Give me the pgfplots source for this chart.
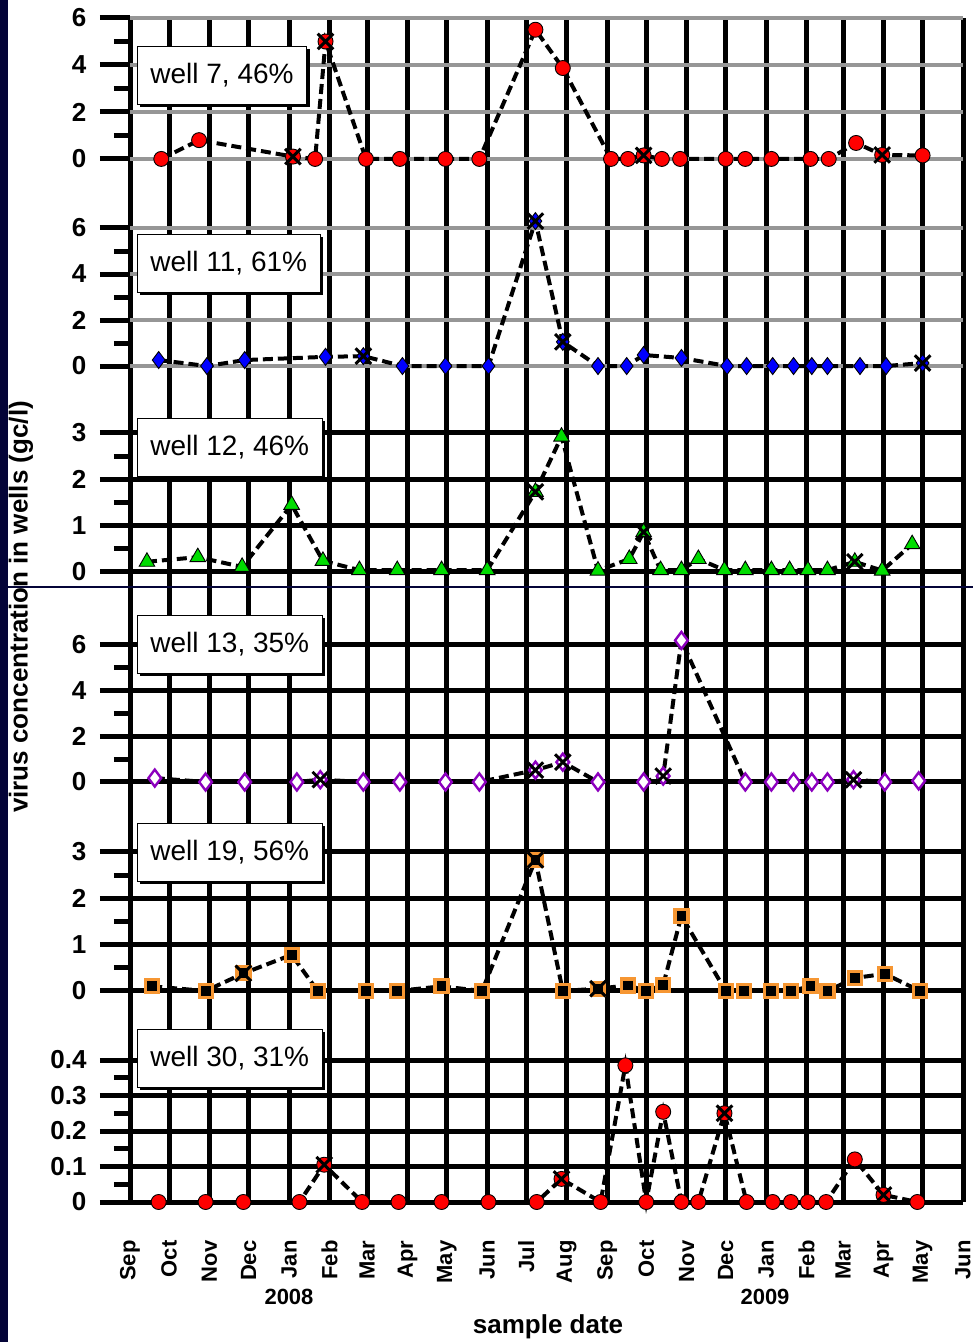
\documentclass[border=0pt]{standalone}
\usepackage{fontspec}
\setmainfont{Liberation Sans}
\usepackage{pgfplots}
\pgfplotsset{compat=1.18}
\usetikzlibrary{shadows}

\definecolor{slidenavy}{RGB}{4,4,56}
\definecolor{gridgray}{RGB}{150,150,150}
\definecolor{wellred}{RGB}{255,0,0}
\definecolor{wellblue}{RGB}{0,0,255}
\definecolor{wellgreen}{RGB}{0,220,0}
\definecolor{wellpurple}{RGB}{140,0,190}
\definecolor{wellorange}{RGB}{246,150,50}

% x axis: days since 1 Sep 2007
\pgfplotsset{
  panel/.style={
    scale only axis, width=833pt, anchor=south west,
    xmin=0, xmax=639, clip=false,
    axis line style={draw=none},
    tick pos=left, tick align=outside,
    major tick length=30pt, minor tick length=16pt,
    xtick={0,30,61,91,122,153,182,213,243,274,304,335,366,396,427,457,488,519,547,578,608,639},
    xticklabels={}, xtick style={draw=none},
    xmajorgrids, ymajorgrids,
    major x grid style={black, line width=5pt},
    major y grid style={black, line width=5pt},
    ytick style={black, line width=5pt},
    /pgf/number format/assume math mode=true,
    yticklabel style={font=\fontsize{26}{26}\selectfont\bfseries, xshift=-10pt},
  },
  conn/.style={black, line width=4pt, dash pattern=on 10pt off 5pt},
  flag/.style={only marks, mark=x, mark size=11pt, mark options={black, line width=3pt}},
}
\tikzset{
  box/.style={draw=black, line width=0.8pt, fill=white, anchor=west, inner xsep=13pt,
    minimum height=58pt, font=\fontsize{28}{28}\selectfont,
    drop shadow={shadow xshift=3pt, shadow yshift=-3pt, fill=black, opacity=1}},
}

\begin{document}
\begin{tikzpicture}
\useasboundingbox (0,0) rectangle (973pt,1342pt);
\fill[white] (0,0) rectangle (973pt,1342pt);

% well 7
\begin{axis}[panel, at={(130pt,1114pt)}, height=210pt,
  ymin=-2.94, ymax=6, ytick={0,2,4,6}, minor ytick={1,3,5},
  major y grid style={gridgray, line width=4pt}]
\addplot[conn, mark=*, mark size=7.5pt, mark options={solid, fill=wellred, draw=black, line width=0.9pt}] coordinates {
(24,0) (53,0.8) (125,0.1) (142,0) (150,5.0) (181,0) (207,0) (242,0) (268,0)
(311,5.5) (332,3.87) (369,0) (382,0) (394,0.15) (408,0) (422,0) (457,0) (472,0)
(492,0) (522,0) (536,0) (557,0.68) (577,0.17) (608,0.15)};
\addplot[flag] coordinates {(125,0.1) (150,5.0) (394,0.15) (577,0.17)};
\end{axis}

% well 11
\begin{axis}[panel, at={(130pt,909pt)}, height=205pt,
  ymin=-2.91, ymax=6, ytick={0,2,4,6}, minor ytick={1,3,5},
  major y grid style={gridgray, line width=4pt}]
\addplot[conn, mark=diamond*, mark size=8.5pt, mark options={solid, fill=wellblue, draw=black, line width=0.9pt}] coordinates {
(22,0.26) (59,0) (88,0.26) (150,0.4) (179,0.43) (209,0) (242,0) (275,0)
(311,6.3) (332,1.05) (359,0) (381,0) (394,0.48) (423,0.35) (458,0) (473,0)
(493,0) (509,0) (523,0) (535,0) (560,0) (580,0) (608,0.13)};
\addplot[flag] coordinates {(179,0.43) (311,6.3) (332,1.05) (608,0.13)};
\end{axis}

% well 12
\begin{axis}[panel, at={(130pt,697pt)}, height=212pt,
  ymin=-1.576, ymax=3, ytick={0,1,2,3}, minor ytick={0.5,1.5,2.5}]
\addplot[conn, mark=triangle*, mark size=9pt, mark options={solid, fill=wellgreen, draw=black, line width=0.9pt}] coordinates {
(13,0.22) (52,0.32) (86,0.11) (124,1.45) (148,0.24) (176,0.04) (205,0.04) (239,0.04)
(274,0.04) (311,1.73) (331,2.92) (359,0.03) (383,0.28) (394,0.86) (407,0.04) (423,0.04)
(436,0.28) (456,0.04) (472,0.04) (492,0.04) (506,0.04) (520,0.04) (535,0.04)
(556,0.22) (577,0.03) (600,0.6)};
\addplot[flag] coordinates {(311,1.73) (394,0.86) (556,0.22)};
\end{axis}

% well 13
\begin{axis}[panel, at={(130pt,490pt)}, height=207pt,
  ymin=-3.066, ymax=6, ytick={0,2,4,6}, minor ytick={1,3,5}]
\addplot[conn, mark=diamond*, mark size=8.5pt, mark options={solid, fill=white, draw=wellpurple, line width=2.4pt}] coordinates {
(19,0.17) (58,0) (88,0) (128,0) (146,0.1) (179,0) (207,0) (242,0) (268,0)
(311,0.52) (332,0.87) (359,0) (394,0) (409,0.26) (423,6.2) (472,0) (492,0)
(509,0) (523,0) (535,0) (555,0.1) (579,0) (605,0.05)};
\addplot[flag] coordinates {(146,0.1) (311,0.52) (332,0.87) (409,0.26) (555,0.1)};
\end{axis}

% well 19
\begin{axis}[panel, at={(130pt,282pt)}, height=208pt,
  ymin=-1.49, ymax=3, ytick={0,1,2,3}, minor ytick={0.5,1.5,2.5}]
\addplot[conn, mark=square*, mark size=6.5pt, mark options={solid, fill=black, draw=wellorange, line width=3.2pt}] coordinates {
(17,0.1) (58,0) (87,0.38) (124,0.78) (144,0) (181,0) (205,0) (239,0.1) (270,0)
(311,2.83) (332,0) (359,0.05) (382,0.12) (396,0) (409,0.13) (423,1.62) (457,0)
(471,0) (492,0) (507,0) (522,0.1) (535,0) (556,0.28) (579,0.37) (606,0)};
\addplot[flag] coordinates {(87,0.38) (311,2.83) (359,0.05)};
\end{axis}

% well 30
\begin{axis}[panel, at={(130pt,140pt)}, height=142pt,
  ymin=0, ymax=0.4, ytick={0,0.1,0.2,0.3,0.4}, minor ytick={0.05,0.15,0.25,0.35},
  xticklabels={Sep,Oct,Nov,Dec,Jan,Feb,Mar,Apr,May,Jun,Jul,Aug,Sep,Oct,Nov,Dec,Jan,Feb,Mar,Apr,May,Jun},
  xtick style={black, line width=5pt},
  minor xtick={15,45.5,76,106.5,137.5,167.5,197.5,228,258.5,289,319.5,350.5,381,411.5,442,472.5,503.5,533,562.5,593,623.5},
  xticklabel shift=5pt,
  xticklabel style={rotate=90, anchor=east, font=\fontsize{22}{22}\selectfont\bfseries}]
\addplot[conn, mark=*, mark size=7.5pt, mark options={solid, fill=wellred, draw=black, line width=0.9pt}] coordinates {
(22,0) (58,0) (87,0) (130,0) (149,0.105) (178,0) (206,0) (239,0) (275,0)
(312,0) (331,0.065) (361,0) (380,0.385) (396,0) (409,0.254) (423,0) (436,0)
(456,0.25) (473,0) (493,0) (507,0) (520,0) (534,0) (556,0.12) (578,0.02) (604,0)};
\addplot[flag] coordinates {(149,0.105) (331,0.065) (456,0.25) (578,0.02)};
\end{axis}

% well labels
\node[box] at (137pt,1267pt) {well 7, 46\%};
\node[box] at (137pt,1079pt) {well 11, 61\%};
\node[box] at (137pt,895pt) {well 12, 46\%};
\node[box] at (137pt,698pt) {well 13, 35\%};
\node[box] at (137pt,490pt) {well 19, 56\%};
\node[box] at (137pt,284pt) {well 30, 31\%};

% axis titles and years
\node[rotate=90, font=\fontsize{26}{26}\selectfont\bfseries] at (21pt,735pt) {virus concentration in wells (gc/l)};
\node[font=\fontsize{26}{26}\selectfont\bfseries] at (548pt,15pt) {sample date};
\node[font=\fontsize{22}{22}\selectfont\bfseries] at (289pt,45pt) {2008};
\node[font=\fontsize{22}{22}\selectfont\bfseries] at (765pt,45pt) {2009};

% slide edge
\fill[slidenavy] (0,0) rectangle (8pt,1342pt);
\draw[slidenavy, line width=1.2pt] (8pt,755pt) -- (973pt,755pt);
\end{tikzpicture}
\end{document}
